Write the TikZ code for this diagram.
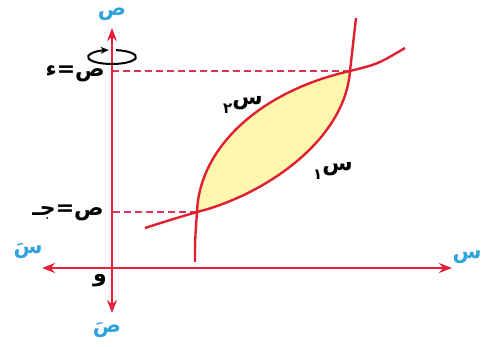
\documentclass[tikz,border=0pt]{standalone}
\usepackage{fontspec}
\newfontfamily\arabicfont[Script=Arabic]{DejaVu Sans}
\TeXXeTstate=1
\usetikzlibrary{arrows.meta,calc}
\definecolor{axRed}{HTML}{E5203A}
\definecolor{dashRed}{HTML}{DD3358}
\definecolor{curveRed}{HTML}{E02030}
\definecolor{lblBlue}{HTML}{2EA3DC}
\definecolor{lensFill}{HTML}{FFF7AE}
\tikzset{
  ax-line/.style={draw=axRed, line width=2.5pt,
    {Stealth[length=13pt,width=10pt]}-{Stealth[length=13pt,width=10pt]}},
  ax-curve/.style={draw=curveRed, line width=2.4pt},
  ax-dash/.style={draw=dashRed, line width=2pt, dash pattern=on 7pt off 4pt},
  ax-rot/.style={draw=black, line width=2pt, -{Stealth[length=8pt,width=7pt]}},
  lbl-blue/.style={font=\arabicfont\bfseries\fontsize{21}{24}\selectfont, text=lblBlue, inner sep=1pt},
  lbl-black/.style={font=\arabicfont\bfseries\fontsize{22}{25}\selectfont, text=black, inner sep=1pt}
}
\begin{document}
\begin{tikzpicture}[x=1pt,y=-1pt]
\useasboundingbox (0,0) rectangle (482,347);
\coordinate (O) at (112,268);
\coordinate (yT) at (112,28);
\coordinate (yB) at (112,313);
\coordinate (xL) at (42,268);
\coordinate (xR) at (452,268);
\coordinate (C) at (197,212);
\coordinate (D) at (350,71);
\coordinate (rot) at (112,57);

% region between the two curves
\fill[lensFill] (C) .. controls (199,150) and (257,92) .. (D)
  .. controls (345,140) and (265,195) .. (C) -- cycle;

% dashed levels y=c, y=d
\draw[ax-dash] (D) -- (D -| O);
\draw[ax-dash] (C) -- (C -| O);

% curves
\draw[ax-curve] (195,262) .. controls (195,240) .. (C)
  .. controls (199,150) and (257,92) .. (D) .. controls (378,64) .. (405,48);
\draw[ax-curve] (145,228) .. controls (170,220) .. (C)
  .. controls (265,195) and (345,140) .. (D) .. controls (353,45) .. (356,18);

% axes
\draw[ax-line] (yB) -- (yT);
\draw[ax-line] (xL) -- (xR);

% rotation about the y axis
\draw[ax-rot] (rot) ++(-80:24 and 7)
  arc[start angle=-80, end angle=262, x radius=24, y radius=7];

% labels
\node[lbl-blue] (yLbl) at (112,14) {\beginR ص\endR};
\node[lbl-blue] (yPLbl) at (107,330) {\beginR صَ\endR};
\node[lbl-blue] (xPLbl) at (28,251) {\beginR سَ\endR};
\node[lbl-blue] (xLbl) at (467,257) {\beginR س\endR};
\node[lbl-black] (oLbl) at (100,281) {\beginR و\endR};
\node[lbl-black, anchor=east] (dLbl) at ($(D -| O)+(-6,3)$) {\beginR ص=ء\endR};
\node[lbl-black, anchor=east] (cLbl) at ($(C -| O)+(-7,1)$) {\beginR ص=جـ\endR};
\node[lbl-black] (s2Lbl) at (243,105) {\beginR س\raisebox{-0.8ex}{\fontsize{15}{17}\selectfont ٢}\endR};
\node[lbl-black] (s1Lbl) at (333,171) {\beginR س\raisebox{-0.8ex}{\fontsize{15}{17}\selectfont ١}\endR};
\end{tikzpicture}
\end{document}
